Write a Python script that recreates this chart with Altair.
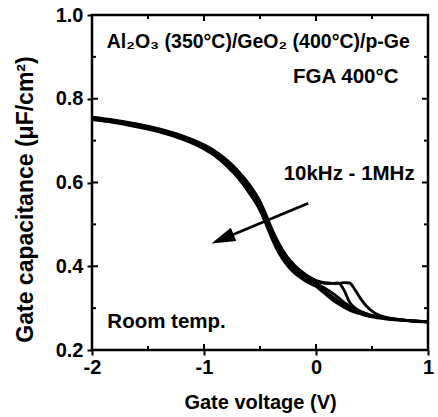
import altair as alt
import pandas as pd

# ---- data ----
voltage = [-2.0, -1.8, -1.6, -1.4, -1.2, -1.0, -0.9, -0.8, -0.7, -0.6,
           -0.5, -0.45, -0.4, -0.35, -0.3, -0.25, -0.2, -0.15, -0.1, -0.05,
           0.0, 0.05, 0.1, 0.15, 0.2, 0.25, 0.3, 0.35, 0.4, 0.45,
           0.5, 0.55, 0.6, 0.7, 0.8, 0.9, 1.0]
cap_a = [0.756, 0.749, 0.740, 0.728, 0.712, 0.690, 0.675, 0.655, 0.629, 0.597,
         0.555, 0.526, 0.493, 0.464, 0.440, 0.420, 0.405, 0.392, 0.382, 0.373,
         0.366, 0.362, 0.360, 0.359, 0.359, 0.361, 0.360, 0.343, 0.322, 0.305,
         0.293, 0.285, 0.280, 0.274, 0.271, 0.269, 0.268]
cap_b = [0.755, 0.748, 0.739, 0.727, 0.711, 0.689, 0.673, 0.652, 0.626, 0.593,
         0.551, 0.522, 0.489, 0.460, 0.436, 0.416, 0.402, 0.390, 0.380, 0.372,
         0.365, 0.361, 0.359, 0.359, 0.360, 0.343, 0.314, 0.300, 0.292, 0.287,
         0.283, 0.280, 0.278, 0.274, 0.271, 0.269, 0.268]
cap_c = [0.753, 0.746, 0.737, 0.725, 0.709, 0.686, 0.670, 0.649, 0.622, 0.587,
         0.545, 0.515, 0.482, 0.453, 0.430, 0.412, 0.398, 0.386, 0.376, 0.368,
         0.360, 0.352, 0.344, 0.335, 0.325, 0.314, 0.305, 0.297, 0.291, 0.286,
         0.282, 0.279, 0.277, 0.274, 0.271, 0.269, 0.268]
cap_d = [0.751, 0.744, 0.735, 0.723, 0.706, 0.683, 0.666, 0.644, 0.617, 0.581,
         0.539, 0.509, 0.476, 0.447, 0.424, 0.406, 0.392, 0.380, 0.370, 0.362,
         0.356, 0.346, 0.336, 0.326, 0.317, 0.308, 0.300, 0.293, 0.288, 0.284,
         0.281, 0.279, 0.277, 0.273, 0.271, 0.269, 0.268]
cap_e = [0.750, 0.743, 0.733, 0.721, 0.704, 0.680, 0.663, 0.640, 0.612, 0.576,
         0.533, 0.503, 0.470, 0.441, 0.418, 0.400, 0.386, 0.375, 0.366, 0.358,
         0.352, 0.341, 0.330, 0.319, 0.310, 0.302, 0.295, 0.290, 0.286, 0.282,
         0.279, 0.277, 0.275, 0.272, 0.270, 0.268, 0.266]
curve_names = ["10kHz", "20kHz", "100kHz", "500kHz", "1MHz"]

x_major = [-2, -1, 0, 1]
x_minor = [-1.5, -0.5, 0.5]
y_major = [0.2, 0.4, 0.6, 0.8, 1.0]
y_minor = [0.3, 0.5, 0.7, 0.9]

# annotation texts (data coordinates)
title_text = ["Al\u2082O\u2083 (350\u00b0C)/GeO\u2082 (400\u00b0C)/p-Ge"]
title_v = [-0.515]
title_c = [0.922]
note_text = ["FGA 400\u00b0C", "10kHz - 1MHz"]
note_v = [0.266, 0.296]
note_c = [0.8376, 0.606]
left_text = ["Room temp."]
left_v = [-1.863]
left_c = [0.2518]

# arrow (start of shaft, centre of head)
arrow_v = [-0.069, -0.835]
arrow_c = [0.5503, 0.4652]

W, H = 336, 335
FONT = "Liberation Sans"

rows = []
for name, series in zip(curve_names, [cap_a, cap_b, cap_c, cap_d, cap_e]):
    for v, c in zip(voltage, series):
        rows.append({"v": v, "c": c, "curve": name})
curves_df = pd.DataFrame(rows)

xs = alt.Scale(domain=[-2, 1], nice=False, zero=False)
ys = alt.Scale(domain=[0.2, 1.0], nice=False, zero=False)

lines = alt.Chart(curves_df).mark_line(
    color="black", strokeWidth=2.8, interpolate="monotone"
).encode(
    x=alt.X("v:Q", scale=xs, axis=alt.Axis(
        values=x_major, labelExpr="datum.value", title="Gate voltage (V)",
        domain=False, grid=False, tickSize=5, tickWidth=2, tickColor="black",
        labelPadding=18, labelBaseline="alphabetic", labelFlush=False,
        titleY=58, titleBaseline="alphabetic")),
    y=alt.Y("c:Q", scale=ys, axis=alt.Axis(
        values=y_major, format=".1f", title="Gate capacitance (\u03bcF/cm\u00b2)",
        domain=False, grid=False, tickSize=5, tickWidth=2, tickColor="black",
        labelPadding=4, labelBaseline="middle", labelFlush=False,
        titleAngle=270, titleX=-60, titleY=184, titleAlign="center",
        titleBaseline="alphabetic", titleFontSize=23)),
    detail="curve:N",
)

layers = [lines]


def xticks(values, length):
    df = pd.DataFrame({"v": values})
    bottom = alt.Chart(df).mark_rule(color="black", strokeWidth=2).encode(
        x=alt.X("v:Q", scale=xs), y=alt.value(H), y2=alt.value(H - length))
    top = alt.Chart(df).mark_rule(color="black", strokeWidth=2).encode(
        x=alt.X("v:Q", scale=xs), y=alt.value(0), y2=alt.value(length))
    return [bottom, top]


def yticks(values, length):
    df = pd.DataFrame({"c": values})
    left = alt.Chart(df).mark_rule(color="black", strokeWidth=2).encode(
        y=alt.Y("c:Q", scale=ys), x=alt.value(0), x2=alt.value(length))
    right = alt.Chart(df).mark_rule(color="black", strokeWidth=2).encode(
        y=alt.Y("c:Q", scale=ys), x=alt.value(W), x2=alt.value(W - length))
    return [left, right]


layers += xticks(x_major, 6) + xticks(x_minor, 4)
layers += yticks(y_major, 6) + yticks(y_minor, 4)

title = alt.Chart(pd.DataFrame({"v": title_v, "c": title_c, "t": title_text})).mark_text(
    font=FONT, fontSize=19.5, fontWeight="bold", color="black",
    align="center", baseline="alphabetic"
).encode(x=alt.X("v:Q", scale=xs), y=alt.Y("c:Q", scale=ys), text="t:N")

notes = alt.Chart(pd.DataFrame({"v": note_v, "c": note_c, "t": note_text})).mark_text(
    font=FONT, fontSize=20.5, fontWeight="bold", color="black",
    align="center", baseline="alphabetic"
).encode(x=alt.X("v:Q", scale=xs), y=alt.Y("c:Q", scale=ys), text="t:N")

left_notes = alt.Chart(pd.DataFrame({"v": left_v, "c": left_c, "t": left_text})).mark_text(
    font=FONT, fontSize=20.5, fontWeight="bold", color="black",
    align="left", baseline="alphabetic"
).encode(x=alt.X("v:Q", scale=xs), y=alt.Y("c:Q", scale=ys), text="t:N")

arrow_df = pd.DataFrame({"v": arrow_v, "c": arrow_c, "o": [0, 1]})
shaft = alt.Chart(arrow_df).mark_line(color="black", strokeWidth=2.8).encode(
    x=alt.X("v:Q", scale=xs), y=alt.Y("c:Q", scale=ys), order="o:Q")
head = alt.Chart(arrow_df.iloc[[1]]).mark_point(
    shape="M 1 0 L -1 -0.6 L -1 0.6 Z", angle=157.5, size=576,
    filled=True, color="black", opacity=1, strokeWidth=0
).encode(x=alt.X("v:Q", scale=xs), y=alt.Y("c:Q", scale=ys))

layers += [title, notes, left_notes, shaft, head]

chart = alt.layer(*layers).properties(
    width=W, height=H,
    padding={"left": 92, "top": 15, "right": 10, "bottom": 67},
    autosize=alt.AutoSizeParams(type="none"),
    background="white",
).configure_view(
    stroke="black", strokeWidth=2.5
).configure_axis(
    labelFont=FONT, labelFontSize=20, labelFontWeight="bold", labelColor="black",
    titleFont=FONT, titleFontSize=20, titleFontWeight="bold", titleColor="black",
)

chart.save("out.html", embed_options={"renderer": "svg", "actions": False})
